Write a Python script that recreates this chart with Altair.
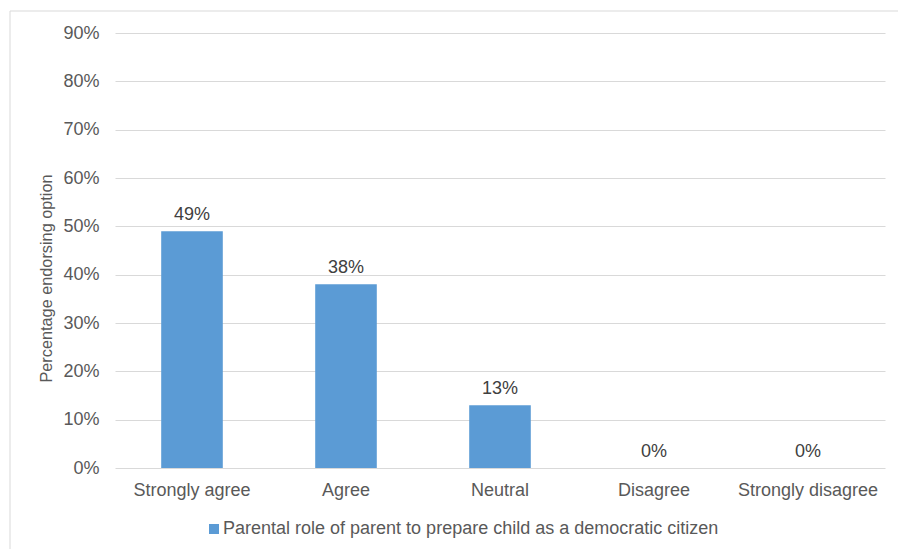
import altair as alt
import pandas as pd

# Survey responses and the share of respondents choosing each option
categories = ["Strongly agree", "Agree", "Neutral", "Disagree", "Strongly disagree"]
shares = [0.49, 0.38, 0.13, 0.0, 0.0]
series_name = "Parental role of parent to prepare child as a democratic citizen"
y_ticks = [0.0, 0.1, 0.2, 0.3, 0.4, 0.5, 0.6, 0.7, 0.8, 0.9]

df = pd.DataFrame({"response": categories, "share": shares, "series": [series_name] * len(categories)})

W, H = 770, 435
FONT = "Liberation Sans"
AXIS_GREY = "#595959"
GRID_GREY = "#D9D9D9"
BAR_BLUE = "#5B9BD5"
FS = 18

x_enc = alt.X(
    "response:N",
    sort=categories,
    scale=alt.Scale(paddingInner=0.6, paddingOuter=0.3),
    axis=alt.Axis(
        title=None, labelAngle=0, domain=False, ticks=False, grid=False,
        labelPadding=13, labelFontSize=FS, labelColor=AXIS_GREY, labelFont=FONT,
    ),
)
y_enc = alt.Y(
    "share:Q",
    scale=alt.Scale(domain=[0, 0.9], nice=False),
    axis=alt.Axis(
        format=".0%", values=y_ticks, title="Percentage endorsing option",
        domain=False, ticks=False, grid=True, gridColor=GRID_GREY, gridWidth=1,
        labelPadding=16, labelFontSize=FS, labelColor=AXIS_GREY, labelFont=FONT,
        titleFontSize=16.3, titleFontWeight="normal", titleColor=AXIS_GREY,
        titleFont=FONT, titlePadding=8, titleY=245,
    ),
)

bars = alt.Chart(df).mark_bar().encode(
    x=x_enc,
    y=y_enc,
    color=alt.Color(
        "series:N",
        scale=alt.Scale(range=[BAR_BLUE]),
        legend=alt.Legend(
            title=None, orient="none", legendX=90, legendY=487,
            symbolType="square", symbolSize=100, symbolStrokeWidth=0,
            labelFontSize=FS, labelColor=AXIS_GREY, labelFont=FONT,
            labelOffset=0, labelLimit=800,
        ),
    ),
)

labels = alt.Chart(df).mark_text(
    baseline="bottom", dy=-7, fontSize=FS, font=FONT, color="#404040"
).encode(
    x=alt.X("response:N", sort=categories),
    y=alt.Y("share:Q"),
    text=alt.Text("share:Q", format=".0%"),
)

# Light outer frame around the figure
frame = alt.Chart(pd.DataFrame({"f": [0]})).mark_rect(
    fill="transparent", stroke=GRID_GREY, strokeWidth=1
).encode(
    x=alt.value(-105), y=alt.value(-22), x2=alt.value(W + 40), y2=alt.value(H + 120)
)

chart = (
    alt.layer(frame, bars, labels)
    .properties(
        width=W, height=H,
        autosize=alt.AutoSizeParams(type="none"),
        padding={"left": 115, "top": 33, "right": 13, "bottom": 81},
        background="white",
    )
    .configure_view(strokeWidth=0)
)

chart.save("out.html", embed_options={"renderer": "svg", "actions": False})
